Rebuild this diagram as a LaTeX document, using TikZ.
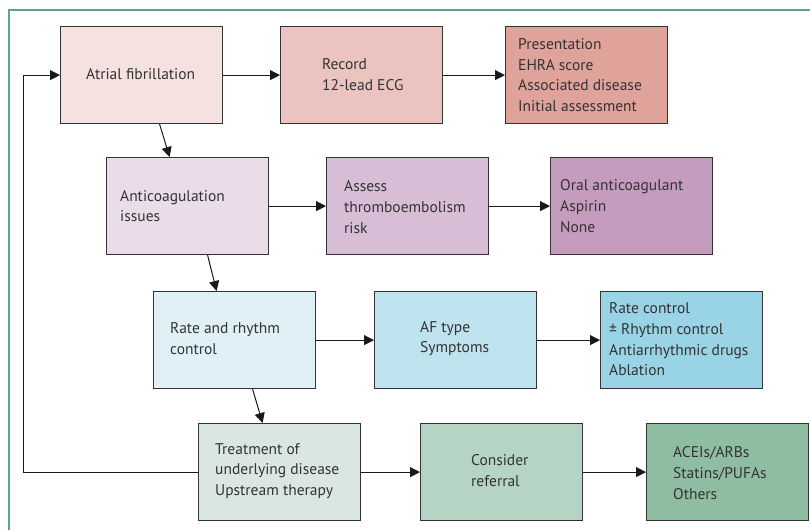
\documentclass[tikz,border=0pt]{standalone}
\usepackage{fontspec}
\setmainfont{PT Sans}
\usetikzlibrary{arrows.meta,calc}
\definecolor{frameg}{HTML}{5AA880}
\definecolor{txt}{HTML}{333333}
\definecolor{edge}{HTML}{333333}
\definecolor{ca1}{HTML}{F5E1E0}
\definecolor{ca2}{HTML}{EBC3BF}
\definecolor{ca3}{HTML}{E0A39B}
\definecolor{cb1}{HTML}{EADDE9}
\definecolor{cb2}{HTML}{D8BDD6}
\definecolor{cb3}{HTML}{C59BBE}
\definecolor{cc1}{HTML}{DFF0F7}
\definecolor{cc2}{HTML}{BEE2EE}
\definecolor{cc3}{HTML}{99D4E6}
\definecolor{cd1}{HTML}{DAE7E0}
\definecolor{cd2}{HTML}{B6D4C3}
\definecolor{cd3}{HTML}{8FBDA2}
\tikzset{
  box/.style={draw=edge, line width=1.2pt, minimum width=162pt, minimum height=97pt, inner sep=0pt, anchor=north west},
  lbl/.style={anchor=west, inner sep=0pt, align=left, text=txt, font=\fontsize{15.5pt}{20.7pt}\selectfont},
  arr/.style={draw=black!90, line width=1pt, -{Triangle[length=10pt,width=10pt]}}
}
\begin{document}
\begin{tikzpicture}[x=1pt,y=-1pt]
\useasboundingbox (0,0) rectangle (810,530);
\fill[white] (0,0) rectangle (810,530);
\draw[frameg, line width=1.5pt] (9,530) -- (9,10) -- (810,10);
% boxes
\node[box, fill=ca1] (a1) at (60,26) {};
\node[box, fill=ca2] (a2) at (280,26) {};
\node[box, fill=ca3] (a3) at (505,26) {};
\node[box, fill=cb1] (b1) at (106,157) {};
\node[box, fill=cb2] (b2) at (326,157) {};
\node[box, fill=cb3] (b3) at (550,157) {};
\node[box, fill=cc1] (c1) at (153,291) {};
\node[box, fill=cc2] (c2) at (374,291) {};
\node[box, fill=cc3] (c3) at (600,291) {};
\node[box, fill=cd1] (d1) at (198,423) {};
\node[box, fill=cd2] (d2) at (420,423) {};
\node[box, fill=cd3] (d3) at (646,423) {};
% texts
\node[lbl] (ta1) at (86,74.5) {Atrial fibrillation};
\node[lbl] (ta2) at (322,74.5) {Record\\12-lead ECG};
\node[lbl] (ta3) at (518,75) {Presentation\\EHRA score\\Associated disease\\Initial assessment};
\node[lbl] (tb1) at (120,206) {Anticoagulation\\issues};
\node[lbl] (tb2) at (344,207) {Assess\\thromboembolism\\risk};
\node[lbl] (tb3) at (560,206) {Oral anticoagulant\\Aspirin\\None};
\node[lbl] (tc1) at (170,338.5) {Rate and rhythm\\control};
\node[lbl] (tc2) at (420,338.5) {AF type\\Symptoms};
\node[lbl] (tc3) at (609,339.5) {Rate control\\± Rhythm control\\Antiarrhythmic drugs\\Ablation};
\node[lbl] (td1) at (215,471) {Treatment of\\underlying disease\\Upstream therapy};
\node[lbl] (td2) at (471,470.5) {Consider\\referral};
\node[lbl] (td3) at (673,473) {ACEIs/ARBs\\Statins/PUFAs\\Others};
% arrows
\draw[arr] (a1.east) -- (a2.west);
\draw[arr] (a2.east) -- (a3.west);
\draw[arr] (b1.east) -- (b2.west);
\draw[arr] (b2.east) -- (b3.west);
\draw[arr] (c1.east) -- (c2.west);
\draw[arr] (c2.east) -- (c3.west);
\draw[arr] (d1.east) -- (d2.west);
\draw[arr] (d2.east) -- (d3.west);
\draw[arr] ([xshift=18pt]a1.south) -- ([xshift=-18pt]b1.north);
\draw[arr] ([xshift=20pt]b1.south) -- ([xshift=-18pt]c1.north);
\draw[arr] ([xshift=18pt]c1.south) -- ([xshift=-17pt]d1.north);
\draw[arr] (d1.west) -- ++(-175,0) |- (a1.west);
\end{tikzpicture}
\end{document}
